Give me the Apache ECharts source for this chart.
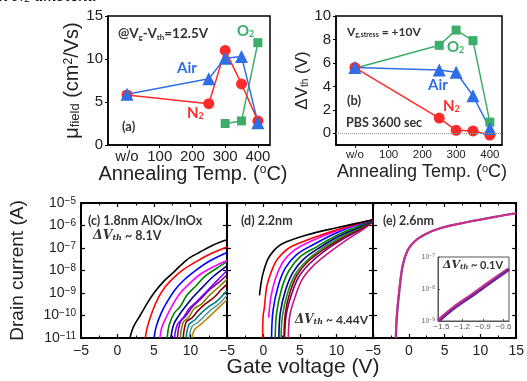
<!DOCTYPE html>
<html><head><meta charset="utf-8">
<script src="https://cdn.jsdelivr.net/npm/echarts@6/dist/echarts.min.js"></script>
<style>html,body{margin:0;padding:0;background:#fff}#c{width:527px;height:381px}</style>
</head><body><div id="c"></div>
<script>
// ---------- Panels (a),(b): annealing temperature (w/o plotted at 0) ----------
const tempTicks = [0, 100, 200, 300, 400];
const mobN2  = [[0,5.8],[250,4.8],[300,11.0],[350,7.1],[400,2.8]];
const mobAir = [[0,5.9],[250,7.7],[300,10.1],[350,10.3],[400,2.6]];
const mobO2  = [[0,5.8],[250,'-'],[300,2.5],[350,2.8],[400,11.9]];
const dvthN2  = [[0,5.6],[250,1.3],[300,0.25],[350,0.2],[400,-0.15]];
const dvthAir = [[0,5.6],[250,5.4],[300,5.2],[350,3.2],[400,0.4]];
const dvthO2  = [[0,5.55],[250,7.5],[300,8.8],[350,7.9],[400,0.95]];
const muTicks = [0,5,10,15];
const dvTicks = [0,2,4,6,8,10];

// ---------- Panel (c): 1.8nm AlOx/InOx, [Vg (V), Id (A)] ----------
const cBlack   = [[1.7,1e-11],[2.2,3.2e-11],[3.1,1.0e-10],[4.0,3.2e-10],[5.1,1.1e-9],[6.3,3.2e-9],[7.6,7.9e-9],[9.5,3.0e-8],[11.3,6.6e-8],[13,1.3e-7],[15,2.3e-7]];
const cRed     = [[3.8,1e-11],[4.1,3.2e-11],[4.8,1.6e-10],[5.6,6.3e-10],[6.5,1.8e-9],[7.6,4.5e-9],[9,1.1e-8],[10.5,2.2e-8],[12.5,5.0e-8],[15,1.1e-7]];
const cBlue    = [[5.0,1e-11],[5.3,3.2e-11],[6.0,1.3e-10],[6.8,4.0e-10],[7.8,1.3e-9],[9,3.5e-9],[10.5,8.9e-9],[12.5,2.5e-8],[15,6.3e-8]];
const cMagenta = [[5.8,1e-11],[6.1,3.2e-11],[6.8,1e-10],[7.6,3.2e-10],[8.6,1e-9],[9.8,2.5e-9],[11.2,6.3e-9],[13,1.4e-8],[15,2.8e-8]];
const cGreen   = [[6.8,1e-11],[7.1,4e-11],[7.8,1.3e-10],[8.6,2.5e-10],[9.5,7.9e-10],[10.7,2e-9],[12,5.6e-9],[13.5,1.2e-8],[15,2.5e-8]];
const cNavy    = [[7.3,1e-11],[7.7,4e-11],[8.4,1e-10],[9.3,2.5e-10],[10.3,6.3e-10],[11.5,1.6e-9],[13,5e-9],[15,1.6e-8]];
const cViolet  = [[7.8,1e-11],[8.2,4e-11],[9.0,7.9e-11],[9.8,2e-10],[10.8,4e-10],[12,1e-9],[13.5,3.2e-9],[15,1e-8]];
const cPurple  = [[8.2,1e-11],[8.6,5e-11],[9.4,1e-10],[10.3,2.5e-10],[11.3,5e-10],[12.5,1.3e-9],[14,3.2e-9],[15,6.3e-9]];
const cOlive   = [[8.6,1e-11],[9.0,5e-11],[9.7,7.9e-11],[10.5,2e-10],[11.5,3.2e-10],[12.6,7.9e-10],[14,2e-9],[15,4e-9]];
const cWine    = [[9.0,1e-11],[9.4,5e-11],[10.2,7.9e-11],[11,1.6e-10],[12,3.2e-10],[13.2,6.3e-10],[14.2,1.4e-9],[15,2.5e-9]];
const cCyan    = [[9.4,1e-11],[9.8,4e-11],[10.6,6.3e-11],[11.5,1.3e-10],[12.5,2.5e-10],[13.5,4e-10],[15,1.3e-9]];
const cTeal    = [[9.8,1e-11],[10.2,3.2e-11],[11,5e-11],[12,1e-10],[13,2e-10],[14,3.5e-10],[15,7.9e-10]];
const cBrown   = [[10.2,1e-11],[10.6,2.5e-11],[11.4,4e-11],[12.4,7.9e-11],[13.4,1.6e-10],[15,5e-10]];

// ---------- Panel (d): 2.2nm ----------
const dBlack   = [[-0.55,7.9e-10],[-0.3,3.2e-9],[0,8.9e-9],[0.6,3.2e-8],[1.3,6.9e-8],[2.2,1.3e-7],[3.15,1.9e-7],[5.9,3.8e-7],[10,7.9e-7],[15,1.8e-6]];
const dRed     = [[-0.12,1e-11],[-0.05,1e-10],[0.1,2e-10],[0.4,1.6e-9],[0.8,5e-9],[1.4,1.6e-8],[2.0,3.5e-8],[3.5,1e-7],[5.9,2.2e-7],[9,5e-7],[12,1e-6],[15,1.8e-6]];
const dMagenta = [[0.7,7.9e-11],[1.0,6.3e-10],[1.6,4e-9],[2.7,2.5e-8],[4.2,7.9e-8],[6.5,2e-7],[9.5,5e-7],[12,9.5e-7],[15,1.75e-6]];
const dBlue    = [[1.1,1e-11],[1.3,1.6e-10],[2.0,2e-9],[3.0,1.3e-8],[4.5,5e-8],[6.8,1.4e-7],[9.5,4e-7],[12,8.5e-7],[15,1.7e-6]];
const dGreen   = [[1.6,1e-11],[1.8,1.3e-10],[2.5,1.6e-9],[3.5,1e-8],[5,4e-8],[7.2,1.1e-7],[10,3.6e-7],[12.5,8e-7],[15,1.65e-6]];
const dNavy    = [[2.1,1e-11],[2.3,1.3e-10],[3.0,1.3e-9],[4.0,7.9e-9],[5.5,3.2e-8],[7.6,1e-7],[10.3,3.3e-7],[12.8,7.6e-7],[15,1.6e-6]];
const dGreen2  = [[2.4,1e-11],[2.6,1e-10],[3.3,1e-9],[4.3,6.3e-9],[5.8,2.5e-8],[7.9,8.9e-8],[10.6,3e-7],[13,7.2e-7],[15,1.6e-6]];
const dWine    = [[2.8,1e-11],[3.0,1.3e-10],[3.6,1e-9],[4.6,6.3e-9],[6.1,2.5e-8],[8.1,8e-8],[10.8,2.8e-7],[13.2,6.9e-7],[15,1.55e-6]];
const dPurple  = [[2.9,1e-11],[3.1,1e-10],[3.8,7.9e-10],[4.8,5e-9],[6.3,2e-8],[8.3,7.1e-8],[11,2.6e-7],[13.3,6.6e-7],[15,1.55e-6]];
const dPink    = [[3.4,1e-11],[3.6,1e-10],[4.3,6.3e-10],[5.3,4e-9],[6.8,1.6e-8],[8.8,5.6e-8],[11.4,2.3e-7],[13.5,6.2e-7],[15,1.5e-6]];

// ---------- Panel (e): 2.6nm and inset ----------
const ePurple  = [[-1.8,1e-11],[-1.65,1e-10],[-1.35,1e-9],[-0.85,1.6e-8],[-0.15,7.9e-8],[0.85,2e-7],[2.25,4e-7],[4.6,7.9e-7],[8.1,1.4e-6],[12,2.4e-6],[15,3.5e-6]];
const eMagenta = [[-1.85,1e-11],[-1.7,1e-10],[-1.4,1e-9],[-0.9,1.6e-8],[-0.2,7.9e-8],[0.8,2e-7],[2.2,4e-7],[4.5,7.9e-7],[8,1.4e-6],[12,2.4e-6],[15,3.5e-6]];
const insPurple  = [[-1.53,1e-9],[-1.31,2.5e-9],[-1.02,6.8e-9],[-0.78,1.6e-8],[-0.52,4.1e-8]];
const insMagenta = [[-1.55,1e-9],[-1.33,2.5e-9],[-1.04,6.8e-9],[-0.8,1.6e-8],[-0.52,4.2e-8]];
const gateTicksCD = [-5,0,5,10];
const gateTicksE = [-5,0,5,10,15];
const insetTicks = [-1.5,-1.2,-0.9,-0.6];

// ---------- styling ----------
const SANS = 'Liberation Sans';
const BOLD = 'Lato';
const RED = '#ff2a2a', BLUE = '#2f6ee6', GREEN = '#3cae6a';
const minus = v => (v < 0 ? '\u2212' + String(-v) : String(v));

const grids = [
  {left:108, top:16, width:162, height:129},
  {left:336, top:16, width:166, height:129},
  {left:81, top:203, width:146, height:135},
  {left:227, top:203, width:146, height:135},
  {left:373, top:203, width:147, height:135},
  {left:438, top:257, width:71, height:64}
].map((g,i) => Object.assign({show:true, borderColor: i===5 ? '#555' : '#000', borderWidth: i===5 ? 1 : 1.5, backgroundColor:'rgba(0,0,0,0)'}, g));

function tempX(gi, min, max, fs) {
  return {type:'value', gridIndex:gi, min, max,
    axisLine:{show:true, onZero:false, lineStyle:{color:'#000', width:1.5}},
    axisTick:{show:true, customValues:tempTicks, inside:false, length:3, lineStyle:{color:'#000'}},
    axisLabel:{customValues:tempTicks, formatter:v => (v===0 ? 'w/o' : String(v)), fontSize:fs, color:'#222', fontFamily:SANS, margin:4},
    splitLine:{show:false}};
}
function gateX(gi, vals, top) {
  return {type:'value', gridIndex:gi, min:-5, max:15, interval:5, position: top ? 'top' : 'bottom',
    axisLine:{show:true, onZero:false, lineStyle:{color:'#000', width:2}},
    axisTick:{show:true, inside:true, length:4, lineStyle:{color:'#000', width:1.2}},
    minorTick:{show:true, splitNumber:2, length:2.5, lineStyle:{color:'#000'}},
    axisLabel:{show: !top, customValues:vals, formatter:minus, fontSize:14, color:'#222', fontFamily:SANS, margin:6},
    splitLine:{show:false}};
}
function logY(gi, right, labels, extra) {
  return Object.assign({type:'log', logBase:10, gridIndex:gi, min:1e-11, max:1e-5, splitNumber:6, position: right ? 'right':'left',
    axisLine:{show:true, onZero:false, lineStyle:{color:'#000', width:2}},
    axisTick:{show:true, inside:true, length:4, lineStyle:{color:'#000', width:1.2}},
    axisLabel:{show:labels, formatter:v => '10{s|\u2212' + Math.round(-Math.log10(v)) + '}', fontSize:14, color:'#222', fontFamily:SANS, margin:5,
      rich:{s:{fontSize:10, verticalAlign:'top', fontFamily:SANS, color:'#222'}}},
    splitLine:{show:false}}, extra || {});
}

const xAxis = [
  tempX(0, -58, 437, 15),
  tempX(1, -56, 436, 11.5),
  gateX(2, gateTicksCD, false), gateX(2, gateTicksCD, true),
  gateX(3, gateTicksCD, false), gateX(3, gateTicksCD, true),
  gateX(4, gateTicksE, false), gateX(4, gateTicksE, true),
  {type:'value', gridIndex:5, min:-1.55, max:-0.52,
    axisLine:{show:true, onZero:false, lineStyle:{color:'#555', width:1}},
    axisTick:{show:true, customValues:insetTicks, inside:true, length:2, lineStyle:{color:'#555'}},
    axisLabel:{customValues:insetTicks, formatter:minus, fontSize:8, color:'#555', fontFamily:SANS, margin:2},
    splitLine:{show:false}}
];
const yAxis = [
  {type:'value', gridIndex:0, min:0, max:15,
    axisLine:{show:true, onZero:false, lineStyle:{color:'#000', width:1.5}},
    axisTick:{show:true, customValues:muTicks, length:3, lineStyle:{color:'#000'}},
    axisLabel:{customValues:muTicks, fontSize:15, color:'#222', fontFamily:SANS, margin:5},
    splitLine:{show:false},
    name:'\u03bc{sb|field} (cm{sp|2}/Vs)', nameLocation:'middle', nameRotate:90, nameGap:23,
    nameTextStyle:{fontSize:20, fontFamily:SANS, color:'#222',
      rich:{sb:{fontSize:13, verticalAlign:'bottom', fontFamily:SANS, color:'#222'}, sp:{fontSize:12, verticalAlign:'top', fontFamily:SANS, color:'#222'}}}},
  {type:'value', gridIndex:1, min:-1, max:10,
    axisLine:{show:true, onZero:false, lineStyle:{color:'#000', width:1.5}},
    axisTick:{show:true, customValues:dvTicks, length:3, lineStyle:{color:'#000'}},
    axisLabel:{customValues:dvTicks, fontSize:15, color:'#222', fontFamily:SANS, margin:5},
    splitLine:{show:false},
    name:'\u0394V{sb|th} (V)', nameLocation:'middle', nameRotate:90, nameGap:21,
    nameTextStyle:{fontSize:17, fontFamily:SANS, color:'#222',
      rich:{sb:{fontSize:10, verticalAlign:'bottom', fontFamily:SANS, color:'#222'}}}},
  logY(2, false, true, {name:'Drain current (A)', nameLocation:'middle', nameRotate:90, nameGap:54,
    nameTextStyle:{fontSize:19, fontFamily:SANS, color:'#222'}}),
  logY(2, true, false),
  logY(3, false, false), logY(3, true, false),
  logY(4, false, false), logY(4, true, false),
  {type:'log', logBase:10, gridIndex:5, min:1e-9, max:1e-7,
    axisLine:{show:true, onZero:false, lineStyle:{color:'#555', width:1}},
    axisTick:{show:true, inside:true, length:2, lineStyle:{color:'#555'}},
    axisLabel:{formatter:v => '10{s|\u2212' + Math.round(-Math.log10(v)) + '}', fontSize:7, color:'#666', fontFamily:SANS, margin:3,
      rich:{s:{fontSize:5, verticalAlign:'top', color:'#666'}}},
    splitLine:{show:false}}
];

function ann(text, left, top, size, color, o) {
  o = o || {};
  return {text, left, top, padding:0, textAlign:o.align || 'left',
    textStyle:{fontSize:size, fontFamily:o.family || BOLD, fontWeight:o.weight || 'bold', fontStyle:o.style || 'normal', color,
      rich:{
        sb:{fontSize:Math.round(size*0.62), verticalAlign:'bottom'},
        sp:{fontSize:Math.round(size*0.6), verticalAlign:'top'},
        i:{fontFamily:'DejaVu Serif', fontStyle:'italic', fontWeight:'bold', fontSize:size},
        is:{fontFamily:'DejaVu Serif', fontStyle:'italic', fontWeight:'bold', fontSize:Math.round(size*0.65), verticalAlign:'bottom'}
      }}};
}
const titles = [
  ann('in N{sb|2} ambient.', -6, -13, 18, '#000', {family:'Liberation Serif', weight:'normal', style:'italic'}),
  ann('@V{sb|g}-V{sb|th}=12.5V', 118, 27, 13.5, '#333'),
  ann('Air', 177, 61, 15, BLUE),
  ann('N{sb|2}', 187, 106, 15, RED),
  ann('O{sb|2}', 237, 24, 15, GREEN),
  ann('(a)', 122, 120, 13, '#333'),
  ann('V{sb|g,stress} = +10V', 347, 26, 12, '#333'),
  ann('O{sb|2}', 447, 40, 15, GREEN),
  ann('Air', 428, 78, 15, BLUE),
  ann('(b)', 347, 94, 13, '#333'),
  ann('N{sb|2}', 443, 99, 15, RED),
  ann('PBS 3600 sec', 346, 116, 12.5, '#333'),
  ann('Annealing Temp. ({sp|o}C)', 193, 164, 20, '#222', {family:SANS, weight:'normal', align:'center'}),
  ann('Annealing Temp. ({sp|o}C)', 422, 163, 18, '#222', {family:SANS, weight:'normal', align:'center'}),
  ann('(c) 1.8nm AlOx/InOx', 88, 214, 12.5, '#333'),
  ann('{i|\u0394V}{is|th}{b| ~ 8.1V}', 93, 229, 12.5, '#333'),
  ann('(d) 2.2nm', 241, 214, 12.5, '#333'),
  ann('{i|\u0394V}{is|th}{b| ~ 4.44V}', 295, 314, 12, '#333'),
  ann('(e) 2.6nm', 383, 214, 12.5, '#333'),
  ann('{i|\u0394V}{is|th}{b| ~ 0.1V}', 443, 260, 11, '#333'),
  ann('Gate voltage (V)', 303, 357, 21, '#222', {family:SANS, weight:'normal', align:'center'})
];

function mark(data, xi, yi, color, sym, size, extra) {
  return Object.assign({type:'line', xAxisIndex:xi, yAxisIndex:yi, data, symbol:sym, symbolSize:size, showSymbol:true,
    itemStyle:{color}, lineStyle:{color, width:1.5}, connectNulls:false, z:3}, extra || {});
}
function curve(data, gi, color, w, extra) {
  const ax = gi === 5 ? 8 : 2 + (gi - 2) * 2;
  return Object.assign({type:'line', xAxisIndex:ax, yAxisIndex:ax, data, showSymbol:false, symbol:'none',
    smooth:0.35, lineStyle:{color, width:w || 1.6}, clip:true, z:2}, extra || {});
}

const series = [
  mark(mobO2, 0, 0, GREEN, 'rect', 9),
  mark(mobN2, 0, 0, RED, 'circle', 11),
  mark(mobAir, 0, 0, BLUE, 'triangle', 13),
  mark(dvthO2, 1, 1, GREEN, 'rect', 9, {markLine:{silent:true, symbol:'none', data:[{yAxis:0}], label:{show:false},
    lineStyle:{type:'dotted', color:'#999', width:1}}}),
  mark(dvthN2, 1, 1, RED, 'circle', 11),
  mark(dvthAir, 1, 1, BLUE, 'triangle', 13),
  curve(cBrown, 2, '#b8860b'), curve(cTeal, 2, '#5f9ea0'), curve(cCyan, 2, '#008080'),
  curve(cWine, 2, '#800000'), curve(cOlive, 2, '#808000'), curve(cPurple, 2, '#800080'),
  curve(cViolet, 2, '#8000ff'), curve(cNavy, 2, '#000080'), curve(cGreen, 2, '#008000'),
  curve(cMagenta, 2, '#ff00ff'), curve(cBlue, 2, '#0000ff'), curve(cRed, 2, '#ff0000'), curve(cBlack, 2, '#000000'),
  curve(dPink, 3, '#c71585'), curve(dPurple, 3, '#800080'), curve(dWine, 3, '#8b0000'), curve(dGreen2, 3, '#228b22'),
  curve(dNavy, 3, '#000080'), curve(dGreen, 3, '#008000'), curve(dBlue, 3, '#0000ff'),
  curve(dMagenta, 3, '#ff00ff'), curve(dRed, 3, '#ff0000'), curve(dBlack, 3, '#000000'),
  curve(ePurple, 4, '#6a2c9c', 2.2), curve(eMagenta, 4, '#d0308a', 1.8),
  curve(insMagenta, 5, '#d0308a', 4), curve(insPurple, 5, '#5a2aa0', 2)
];

const chart = echarts.init(document.getElementById('c'), null, {renderer:'canvas', width:527, height:381});
chart.setOption({animation:false, backgroundColor:'#fff', grid:grids, xAxis, yAxis, title:titles, series});
</script></body></html>
